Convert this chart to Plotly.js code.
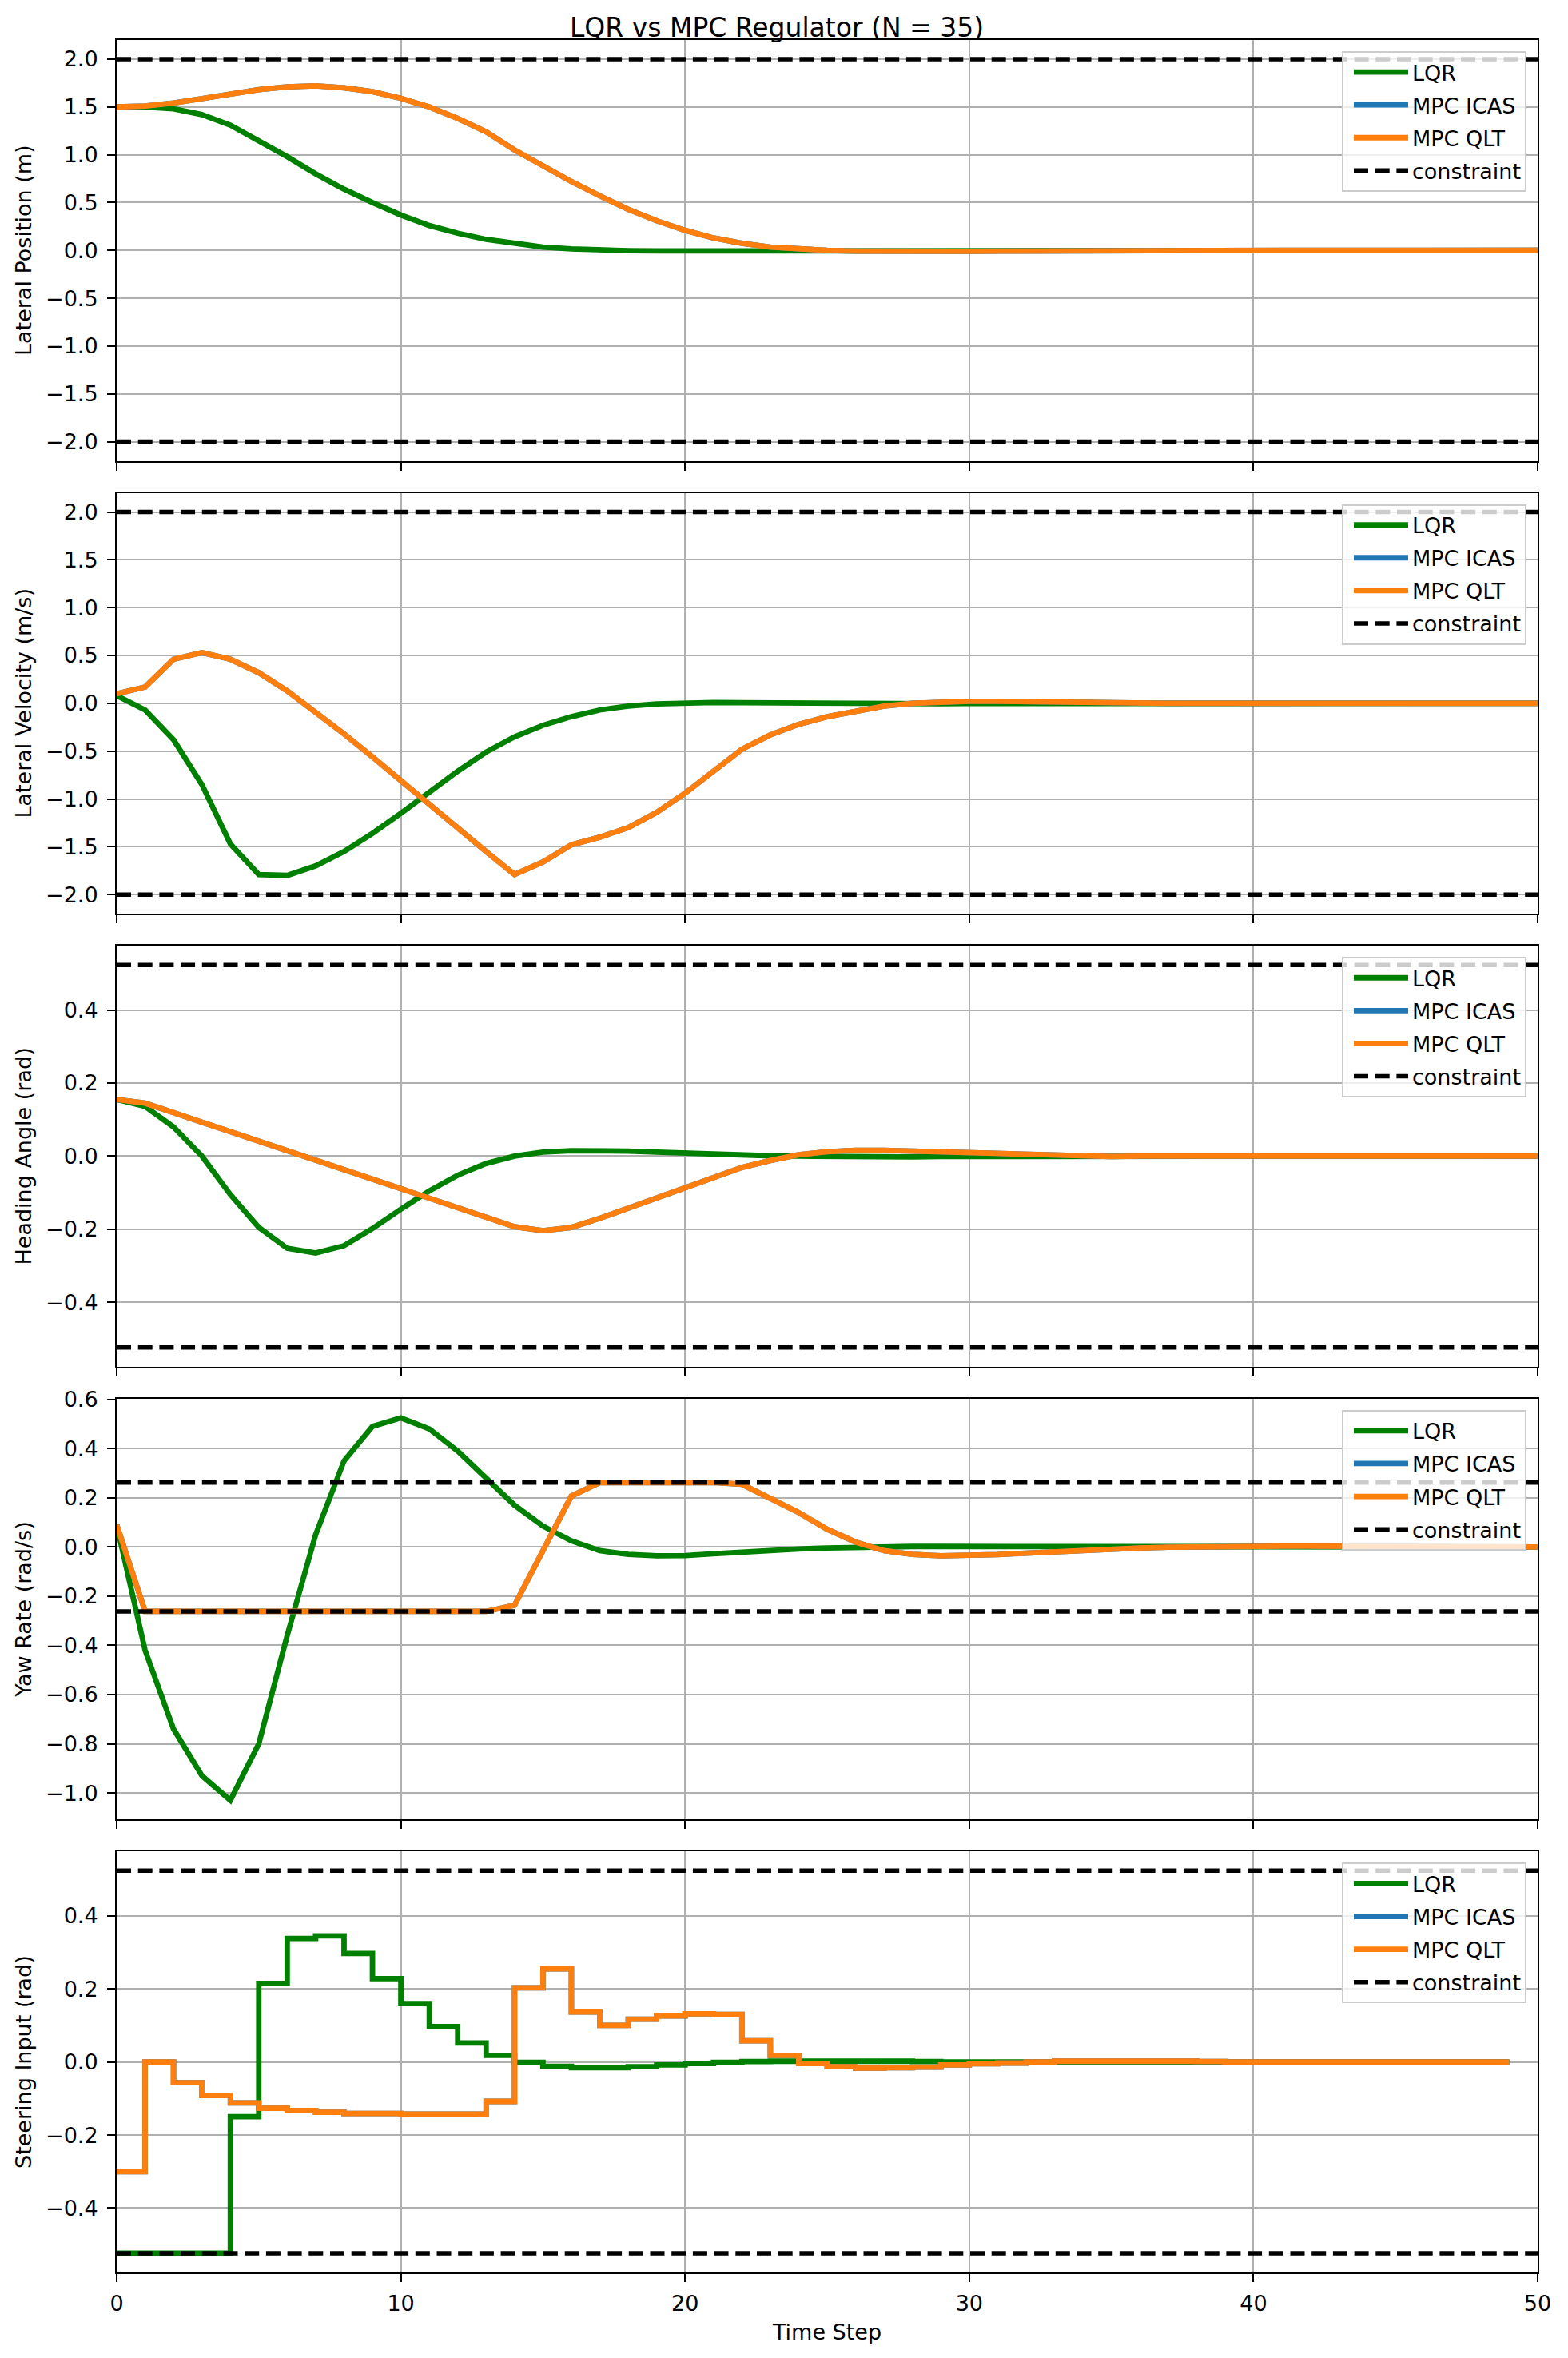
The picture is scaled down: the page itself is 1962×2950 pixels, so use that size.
<!DOCTYPE html>
<html>
<head>
<meta charset="utf-8">
<script src="https://cdn.plot.ly/plotly-3.0.1.min.js"></script>
<style>
  html, body { margin: 0; padding: 0; background: #ffffff; }
  #chart { width: 1962px; height: 2950px; }
</style>
</head>
<body>
<div id="chart"></div>
<script>
// ---------------- DATA ----------------
const figureTitle = 'LQR vs MPC Regulator (N = 35)';
const seriesNames = ['LQR', 'MPC ICAS', 'MPC QLT', 'constraint'];
const panelLabels = ['Lateral Position (m)', 'Lateral Velocity (m/s)', 'Heading Angle (rad)', 'Yaw Rate (rad/s)', 'Steering Input (rad)'];
const xLabel = 'Time Step';

const stateSteps = [0,1,2,3,4,5,6,7,8,9,10,11,12,13,14,15,16,17,18,19,20,21,22,23,24,25,26,27,28,29,30,31,32,33,34,35,36,37,38,39,40,41,42,43,44,45,46,47,48,49,50];
const inputSteps = [0,1,2,3,4,5,6,7,8,9,10,11,12,13,14,15,16,17,18,19,20,21,22,23,24,25,26,27,28,29,30,31,32,33,34,35,36,37,38,39,40,41,42,43,44,45,46,47,48,49];

// Lateral position (m)
const lqrPosition = [1.50,1.50,1.48,1.42,1.31,1.15,0.98,0.80,0.64,0.50,0.37,0.26,0.18,0.115,0.07,0.035,0.015,0.003,-0.003,-0.006,-0.006,-0.005,-0.004,-0.003,-0.002,-0.001,0,0,0,0,0,0,0,0,0,0,0,0,0,0,0,0,0,0,0,0,0,0,0,0,0];
const qltPosition = [1.50,1.51,1.54,1.59,1.64,1.68,1.71,1.72,1.70,1.66,1.59,1.50,1.38,1.24,1.05,0.88,0.72,0.57,0.43,0.31,0.21,0.13,0.075,0.035,0.012,0.0,-0.007,-0.011,-0.012,-0.011,-0.009,-0.007,-0.005,-0.003,-0.002,-0.001,0,0,0,0,0,0,0,0,0,0,0,0,0,0,0];

// Lateral velocity (m/s)
const lqrVelocity = [0.08,-0.07,-0.38,-0.85,-1.47,-1.79,-1.80,-1.70,-1.55,-1.36,-1.15,-0.93,-0.71,-0.51,-0.35,-0.23,-0.14,-0.07,-0.03,-0.006,0.006,0.008,0.006,0.003,0.0,-0.003,-0.005,-0.006,-0.005,-0.004,-0.003,-0.002,-0.001,0,0,0,0,0,0,0,0,0,0,0,0,0,0,0,0,0,0];
const qltVelocity = [0.10,0.17,0.46,0.53,0.46,0.32,0.13,-0.09,-0.32,-0.56,-0.81,-1.06,-1.30,-1.55,-1.79,-1.66,-1.48,-1.40,-1.30,-1.14,-0.94,-0.71,-0.48,-0.33,-0.22,-0.14,-0.08,-0.03,0.0,0.015,0.02,0.02,0.015,0.01,0.005,0.002,0,0,0,0,0,0,0,0,0,0,0,0,0,0,0];

// Heading angle (rad)
const lqrHeading = [0.155,0.136,0.08,0.0,-0.105,-0.195,-0.252,-0.265,-0.245,-0.198,-0.145,-0.095,-0.052,-0.02,0.0,0.011,0.015,0.016,0.014,0.011,0.008,0.005,0.003,0.001,0.0,-0.001,-0.002,-0.002,-0.002,-0.001,-0.001,0,0,0,0,0,0,0,0,0,0,0,0,0,0,0,0,0,0,0,0];
const qltHeading = [0.155,0.145,0.119,0.093,0.066,0.04,0.014,-0.012,-0.038,-0.064,-0.09,-0.117,-0.143,-0.169,-0.193,-0.204,-0.195,-0.17,-0.142,-0.113,-0.084,-0.056,-0.031,-0.012,0.004,0.012,0.016,0.016,0.014,0.011,0.008,0.005,0.003,0.001,0.0,-0.001,0,0,0,0,0,0,0,0,0,0,0,0,0,0,0];

// Yaw rate (rad/s)
const lqrYawRate = [0.09,-0.42,-0.74,-0.93,-1.03,-0.80,-0.36,0.05,0.35,0.49,0.525,0.48,0.39,0.28,0.17,0.085,0.025,-0.015,-0.03,-0.036,-0.035,-0.028,-0.02,-0.014,-0.008,-0.004,-0.001,0.001,0.002,0.002,0.002,0.001,0,0,0,0,0,0,0,0,0,0,0,0,0,0,0,0,0,0,0];
const qltYawRate = [0.09,-0.262,-0.262,-0.262,-0.262,-0.262,-0.262,-0.262,-0.262,-0.262,-0.262,-0.262,-0.262,-0.262,-0.237,-0.01,0.207,0.262,0.262,0.262,0.262,0.262,0.255,0.2,0.14,0.072,0.02,-0.015,-0.03,-0.036,-0.035,-0.031,-0.025,-0.019,-0.013,-0.008,-0.004,-0.001,0.001,0.002,0.003,0.003,0.003,0.002,0.002,0.001,0.001,0,0,0,0];

// Steering input (rad), held over each step
const lqrSteering = [-0.5236,-0.5236,-0.5236,-0.5236,-0.15,0.215,0.338,0.345,0.297,0.228,0.16,0.097,0.052,0.018,-0.001,-0.012,-0.016,-0.016,-0.013,-0.008,-0.004,-0.001,0.001,0.002,0.002,0.002,0.002,0.002,0.001,0,0,0,0,0,0,0,0,0,0,0,0,0,0,0,0,0,0,0,0,0];
const qltSteering = [-0.3,0.0,-0.057,-0.092,-0.112,-0.127,-0.133,-0.138,-0.141,-0.141,-0.143,-0.143,-0.143,-0.108,0.203,0.255,0.137,0.1,0.117,0.126,0.132,0.13,0.058,0.018,-0.004,-0.013,-0.017,-0.016,-0.014,-0.008,-0.005,-0.003,0.0,0.002,0.002,0.002,0.002,0.002,0.001,0,0,0,0,0,0,0,0,0,0,0];

// Constraint bounds per panel
const constraintBounds = [2.0, 2.0, 0.5236, 0.2618, 0.5236];

// ---------------- STYLE / LAYOUT ----------------
const FONT = 'DejaVu Sans';
const W = 1962, H = 2950;
const M = {l: 146, r: 38, t: 50, b: 107};
const plotH = H - M.t - M.b;
const plotW = W - M.l - M.r;
const panelH = 526.5, panelStep = 566.6;

const colors = {lqr: '#008000', icas: '#1f77b4', qlt: '#ff7f0e'};
const LW = 6.8;

const panels = [
  {lqr: lqrPosition, mpc: qltPosition, x: stateSteps, shape: 'linear', range: [-2.2, 2.2], dtick: 0.5},
  {lqr: lqrVelocity, mpc: qltVelocity, x: stateSteps, shape: 'linear', range: [-2.2, 2.2], dtick: 0.5},
  {lqr: lqrHeading, mpc: qltHeading, x: stateSteps, shape: 'linear', range: [-0.576, 0.576], dtick: 0.2},
  {lqr: lqrYawRate, mpc: qltYawRate, x: stateSteps, shape: 'linear', range: [-1.108, 0.603], dtick: 0.2},
  {lqr: lqrSteering, mpc: qltSteering, x: inputSteps, shape: 'hv', range: [-0.576, 0.576], dtick: 0.2}
];

const traces = [];
const layout = {
  width: W, height: H,
  margin: M,
  paper_bgcolor: '#ffffff',
  plot_bgcolor: '#ffffff',
  font: {family: FONT, size: 27, color: '#000000'},
  showlegend: true,
  title: {
    text: figureTitle,
    font: {family: FONT, size: 33, color: '#000000'},
    xref: 'container', yref: 'container',
    x: 972 / W, xanchor: 'center',
    y: 1 - 46 / H, yanchor: 'bottom'
  }
};

panels.forEach((p, i) => {
  const n = i + 1;
  const sfx = n === 1 ? '' : String(n);
  const xa = 'x' + sfx, ya = 'y' + sfx;
  const legendId = 'legend' + sfx;
  const topPx = M.t + i * panelStep;
  const botPx = topPx + panelH;
  const d0 = (H - M.b - botPx) / plotH;
  const d1 = (H - M.b - topPx) / plotH;

  const common = {type: 'scatter', mode: 'lines', xaxis: xa, yaxis: ya, legend: legendId, hoverinfo: 'skip'};
  traces.push(Object.assign({}, common, {x: p.x, y: p.lqr, name: seriesNames[0], legendgroup: 'g' + n + 'a',
    line: {color: colors.lqr, width: LW, shape: p.shape}}));
  traces.push(Object.assign({}, common, {x: p.x, y: p.mpc, name: seriesNames[1], legendgroup: 'g' + n + 'b',
    line: {color: colors.icas, width: LW, shape: p.shape}}));
  traces.push(Object.assign({}, common, {x: p.x, y: p.mpc, name: seriesNames[2], legendgroup: 'g' + n + 'c',
    line: {color: colors.qlt, width: LW, shape: p.shape}}));
  const c = constraintBounds[i];
  const cx = [stateSteps[0], stateSteps[stateSteps.length - 1]];
  traces.push(Object.assign({}, common, {x: cx, y: [c, c], name: seriesNames[3], legendgroup: 'g' + n + 'd',
    line: {color: '#000000', width: 5.5, dash: '18px,8.7px'}}));
  traces.push(Object.assign({}, common, {x: cx, y: [-c, -c], name: seriesNames[3], legendgroup: 'g' + n + 'd', showlegend: false,
    line: {color: '#000000', width: 5.5, dash: '18px,8.7px'}}));

  layout['xaxis' + sfx] = {
    domain: [0, 1], anchor: ya, range: [0, 50],
    tickmode: 'linear', tick0: 0, dtick: 10,
    ticks: 'outside', ticklen: 10, tickwidth: 2, tickcolor: '#000000',
    showline: true, linecolor: '#000000', linewidth: 2, mirror: true,
    showgrid: true, gridcolor: '#b0b0b0', gridwidth: 2, zeroline: false,
    showticklabels: n === 5, ticklabelstandoff: 4,
    tickfont: {family: FONT, size: 27, color: '#000000'},
    title: n === 5 ? {text: xLabel, font: {family: FONT, size: 27, color: '#000000'}, standoff: 12} : {text: ''},
    automargin: false
  };
  layout['yaxis' + sfx] = {
    domain: [d0, d1], anchor: xa, range: p.range,
    tickmode: 'linear', tick0: 0, dtick: p.dtick, tickformat: '.1f',
    ticks: 'outside', ticklen: 10, tickwidth: 2, tickcolor: '#000000',
    showline: true, linecolor: '#000000', linewidth: 2, mirror: true,
    showgrid: true, gridcolor: '#b0b0b0', gridwidth: 2, zeroline: false,
    ticklabelstandoff: 6,
    tickfont: {family: FONT, size: 27, color: '#000000'},
    title: {text: panelLabels[i], font: {family: FONT, size: 27, color: '#000000'}, standoff: 10},
    automargin: false
  };
  layout[legendId] = {
    x: (1910 - M.l) / plotW, xanchor: 'right',
    y: (H - M.b - (topPx + 14)) / plotH, yanchor: 'top',
    bgcolor: 'rgba(255,255,255,0.8)', bordercolor: '#cccccc', borderwidth: 2,
    font: {family: FONT, size: 27, color: '#000000'},
    tracegroupgap: 3, itemwidth: 68, indentation: 8, traceorder: 'grouped'
  };
});

Plotly.newPlot('chart', traces, layout, {staticPlot: true, displayModeBar: false});
</script>
</body>
</html>
